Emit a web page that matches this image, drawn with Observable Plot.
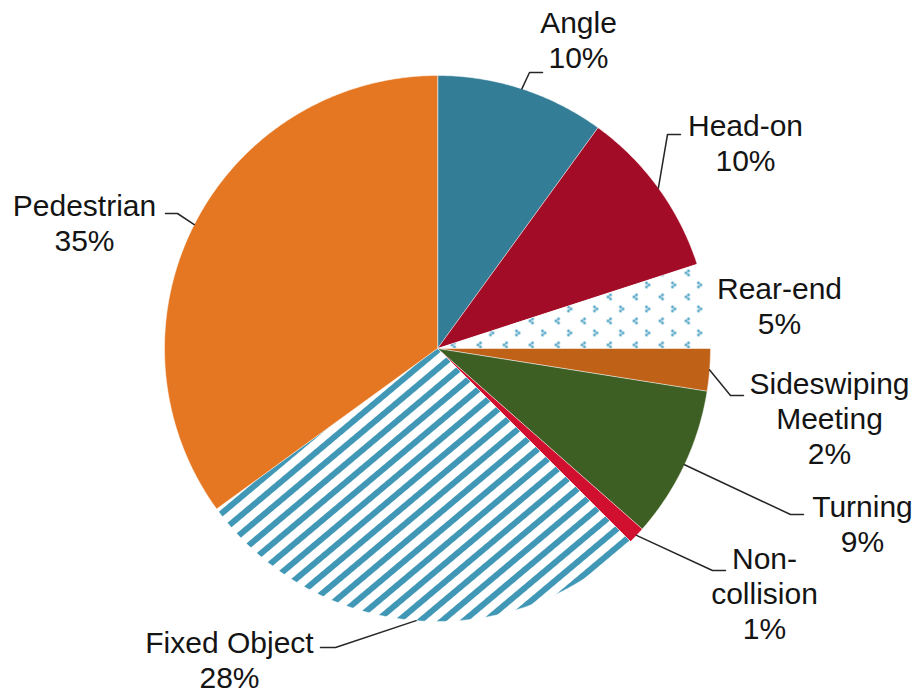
<!DOCTYPE html>
<html>
<head>
<meta charset="utf-8">
<script src="https://cdn.jsdelivr.net/npm/d3@7"></script>
<script src="https://cdn.jsdelivr.net/npm/@observablehq/plot@0.6"></script>
<style>
  html, body { margin: 0; padding: 0; background: #ffffff; }
  #chart svg { display: block; }
</style>
</head>
<body>
<div id="chart"></div>
<script>
// ---------- data ----------
const categories = ["Angle", "Head-on", "Rear-end", "Sideswiping Meeting", "Turning", "Non-collision", "Fixed Object", "Pedestrian"];
const shares = [10, 10, 5, 2.5, 9, 1, 27.5, 35];          // slice sizes (%)
const percentLabels = ["10%", "10%", "5%", "2%", "9%", "1%", "28%", "35%"];
const labelLines = [["Angle"], ["Head-on"], ["Rear-end"], ["Sideswiping", "Meeting"], ["Turning"], ["Non-", "collision"], ["Fixed Object"], ["Pedestrian"]];

// ---------- layout / style ----------
const W = 918, H = 692;
const CX = 437, CY = 348, R = 273;
const fills = ["#337e96", "#a30c26", "url(#chevrons)", "#c06118", "#3e5f23", "#d0102e", "url(#stripes)", "#e67722"];
// label placement: centre x and first baseline (pixels)
const labelPos = [
  {x: 578, y: 32}, {x: 745, y: 135}, {x: 779, y: 298}, {x: 829, y: 393},
  {x: 862, y: 516}, {x: 764, y: 568}, {x: 229, y: 652}, {x: 84, y: 215}
];
// leader elbows and ends (null = no leader)
const leaderPts = [
  [[529, 72], [542, 72]],
  [[667, 134], [680, 134]],
  null,
  [[730, 395], [743, 395]],
  [[790, 514], [803, 514]],
  [[712, 570], [725, 570]],
  [[335, 647], [320, 647]],
  [[177, 213], [165, 213]]
];
const LINE_H = 35;

// ---------- geometry ----------
const arcs = d3.pie().sort(null).value(d => d)(shares);
const pt = (a, r) => [CX + r * Math.sin(a), CY - r * Math.cos(a)];

const slicePts = [];
arcs.forEach((a, i) => {
  slicePts.push({k: i, x: CX, y: CY, fill: fills[i]});
  const n = Math.max(2, Math.ceil((a.endAngle - a.startAngle) / (Math.PI / 360)));
  for (let j = 0; j <= n; j++) {
    const ang = a.startAngle + (a.endAngle - a.startAngle) * j / n;
    const [x, y] = pt(ang, R);
    slicePts.push({k: i, x, y, fill: fills[i]});
  }
});

const leaderRows = [];
arcs.forEach((a, i) => {
  if (!leaderPts[i]) return;
  const [sx, sy] = pt((a.startAngle + a.endAngle) / 2, R);
  leaderRows.push({k: i, x: sx, y: sy});
  leaderPts[i].forEach(([x, y]) => leaderRows.push({k: i, x, y}));
});

const textRows = [];
categories.forEach((c, i) => {
  const lines = [...labelLines[i], percentLabels[i]];
  lines.forEach((t, j) => textRows.push({x: labelPos[i].x, y: labelPos[i].y + j * LINE_H, t}));
});

const chart = Plot.plot({
  width: W,
  height: H,
  margin: 0,
  x: {domain: [0, W], range: [0, W], axis: null},
  y: {domain: [0, H], range: [0, H], axis: null},
  color: {type: "identity"},
  style: {background: "#ffffff"},
  marks: [
    Plot.line(slicePts, {x: "x", y: "y", z: "k", fill: "fill", stroke: "#ffffff", strokeWidth: 0.5, curve: "linear-closed"}),
    Plot.line(leaderRows, {x: "x", y: "y", z: "k", stroke: "#262626", strokeWidth: 1.5}),
    Plot.text(textRows, {x: "x", y: "y", text: "t", lineAnchor: "bottom", textAnchor: "middle",
      fontFamily: "Liberation Sans, Arial, sans-serif", fontSize: 30, fill: "#141414"})
  ]
});

d3.select(chart).insert("defs", ":first-child").html(`
  <pattern id="stripes" patternUnits="userSpaceOnUse" width="14" height="14" patternTransform="rotate(-40)">
    <rect width="14" height="14" fill="#ffffff"/>
    <rect width="14" height="6" fill="#4198b6"/>
  </pattern>
  <pattern id="chevrons" patternUnits="userSpaceOnUse" width="26" height="24" x="4" y="2">
    <rect width="26" height="24" fill="#ffffff"/>
    <g fill="#4ea3c3">
      <circle cx="8" cy="4.5" r="1.4"/><circle cx="5.5" cy="6.5" r="1.4"/><circle cx="8" cy="8.5" r="1.4"/>
      <circle cx="18" cy="16.5" r="1.4"/><circle cx="20.5" cy="18.5" r="1.4"/><circle cx="18" cy="20.5" r="1.4"/>
    </g>
  </pattern>
`);

document.getElementById("chart").appendChild(chart);
</script>
</body>
</html>
